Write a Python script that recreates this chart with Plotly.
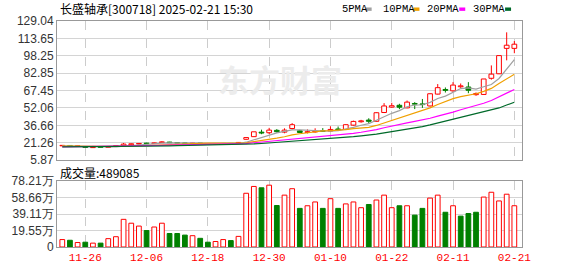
import plotly.graph_objects as go

# ---------------- data ----------------
dates = ["11-21", "11-22", "11-25", "11-26", "11-27", "11-28", "11-29", "12-02", "12-03", "12-04",
         "12-05", "12-06", "12-09", "12-10", "12-11", "12-12", "12-13", "12-16", "12-17", "12-18",
         "12-19", "12-20", "12-23", "12-24", "12-25", "12-26", "12-27", "12-30", "12-31", "01-02",
         "01-03", "01-06", "01-07", "01-08", "01-09", "01-10", "01-13", "01-14", "01-15", "01-16",
         "01-17", "01-20", "01-21", "01-22", "01-23", "01-24", "01-27", "02-05", "02-06", "02-07",
         "02-10", "02-11", "02-12", "02-13", "02-14", "02-17", "02-18", "02-19", "02-20", "02-21"]

open_ = [18.5, 18.8, 18.3, 17.6, 16.9, 17.3, 17.1, 17.9, 18.8, 19.4,
         20.1, 20.9, 20.5, 21.3, 21.8, 21.3, 21.0, 20.6, 20.9, 20.4,
         20.1, 20.3, 20.6, 20.9, 24.3, 26.6, 30.6, 30.1, 32.2, 30.6,
         33.8, 31.8, 30.3, 30.8, 31.9, 31.6, 33.4, 33.0, 36.8, 39.8,
         41.3, 40.2, 48.0, 52.8, 54.4, 52.1, 56.0, 55.6, 53.8, 64.3,
         68.4, 67.2, 70.8, 70.6, 63.8, 64.0, 78.3, 82.3, 104.8, 104.8]
high = [19.2, 19.0, 18.8, 17.8, 17.5, 17.5, 17.6, 18.9, 21.0, 20.6,
        21.0, 21.2, 21.4, 22.6, 22.0, 21.5, 21.3, 21.1, 21.0, 20.6,
        20.5, 20.8, 20.7, 21.8, 25.8, 30.9, 32.8, 34.4, 33.3, 34.0,
        38.6, 32.6, 33.0, 34.0, 34.2, 35.8, 35.6, 37.6, 40.8, 41.5,
        42.9, 48.2, 56.3, 56.6, 55.7, 58.6, 57.2, 60.0, 65.0, 73.2,
        70.2, 74.9, 73.7, 74.9, 65.8, 77.7, 89.7, 98.4, 119.0, 111.3]
low = [18.3, 18.2, 18.1, 17.0, 16.8, 16.9, 17.0, 17.8, 18.6, 19.2,
       19.8, 20.1, 20.3, 21.0, 20.9, 20.7, 20.5, 20.4, 20.2, 20.0,
       20.0, 20.2, 20.1, 20.7, 23.9, 26.4, 28.8, 29.0, 30.2, 29.6,
       33.0, 29.8, 29.5, 30.2, 30.8, 31.2, 31.8, 32.6, 36.4, 39.0,
       38.4, 40.0, 47.5, 52.2, 51.0, 51.8, 51.0, 52.1, 53.4, 64.0,
       65.7, 66.3, 69.8, 65.1, 62.8, 63.6, 77.1, 82.0, 94.2, 100.5]
close = [18.9, 18.4, 18.6, 17.1, 17.3, 17.0, 17.5, 18.7, 20.0, 20.3,
         20.6, 20.4, 21.1, 22.0, 21.2, 20.9, 20.7, 20.9, 20.4, 20.2,
         20.3, 20.6, 20.3, 21.5, 25.8, 30.9, 29.8, 32.4, 31.0, 32.4,
         37.2, 30.3, 31.0, 31.4, 31.3, 33.0, 32.8, 37.2, 40.1, 40.6,
         40.2, 47.8, 53.8, 54.0, 52.7, 57.2, 55.4, 55.0, 64.6, 70.0,
         67.6, 72.3, 71.6, 67.7, 64.8, 77.7, 82.0, 98.4, 107.6, 108.5]
# closes before the visible window (needed for the moving averages)
prior_close = [17.8, 17.6, 17.9, 18.2, 17.7, 17.4, 17.6, 17.9, 18.1, 17.8,
               17.2, 16.9, 16.6, 16.4, 16.8, 17.0, 16.7, 16.5, 16.9, 17.1,
               17.6, 18.0, 18.4, 18.2, 18.6, 18.3, 18.5, 18.2, 18.4]
# volume in 万 (10,000 shares)
volume_wan = [8.8, 8.0, 5.3, 5.7, 4.6, 4.6, 9.9, 12.2, 32.8, 28.2,
              24.8, 19.5, 23.7, 28.2, 16.0, 16.0, 14.1, 13.4, 10.3, 5.7,
              6.5, 8.8, 7.6, 12.6, 63.7, 71.8, 70.2, 73.3, 49.2, 61.5,
              69.1, 45.8, 48.9, 53.4, 45.8, 57.3, 45.8, 51.1, 53.4, 46.6,
              50.4, 55.7, 61.5, 46.6, 48.9, 48.9, 37.8, 45.8, 58.0, 61.5,
              41.2, 48.9, 36.6, 39.7, 41.2, 59.2, 64.9, 54.6, 62.6, 48.9085]

price_ticks = [5.87, 21.26, 36.66, 52.06, 67.45, 82.85, 98.25, 113.65, 129.04]
vol_ticks = [0, 19.55, 39.11, 58.66, 78.21]
x_tick_labels = ["11-26", "12-06", "12-18", "12-30", "01-10", "01-22", "02-11", "02-21"]
ma_periods = [5, 10, 20, 30]
ma_names = ["5PMA", "10PMA", "20PMA", "30PMA"]
title_text = "长盛轴承[300718] 2025-02-21 15:30"

# ---------------- styles ----------------
RED = "#ff0000"
GREEN = "#008000"
MA_COLORS = ["#a0a0a0", "#f0a000", "#ff00ff", "#006a2a"]
GRID = "#d4d4d4"
BORDER = "#999999"
CJK = "Noto Sans CJK SC"

n = len(close)
xs = list(range(n))
full = prior_close + close

def ma(period):
    out = []
    off = len(prior_close)
    for i in range(n):
        w = full[off + i - period + 1: off + i + 1]
        out.append(sum(w) / period)
    return out

up = [c >= o for o, c in zip(open_, close)]
prev = [prior_close[-1]] + close[:-1]
vol_up = [c >= p for c, p in zip(close, prev)]

fig = go.Figure()

# wicks (split so they do not cross the hollow bodies)
for flag, col in [(True, RED), (False, GREEN)]:
    wx, wy = [], []
    for i in xs:
        if up[i] != flag:
            continue
        bot = min(open_[i], close[i]); top = max(open_[i], close[i])
        wx += [i, i, None, i, i, None]
        wy += [low[i], bot, None, top, high[i], None]
    fig.add_trace(go.Scatter(x=wx, y=wy, mode="lines", line=dict(color=col, width=1),
                             hoverinfo="skip", showlegend=False, xaxis="x", yaxis="y"))

# bodies
for flag, fill, col in [(True, "white", RED), (False, GREEN, GREEN)]:
    bx = [i for i in xs if up[i] == flag]
    base = [min(open_[i], close[i]) for i in bx]
    h = [max(abs(close[i] - open_[i]), 0.12) for i in bx]
    fig.add_trace(go.Bar(x=bx, y=h, base=base, width=0.62,
                         marker=dict(color=fill, line=dict(color=col, width=1)),
                         showlegend=False, xaxis="x", yaxis="y"))

# moving averages
for p, col in zip(ma_periods, MA_COLORS):
    fig.add_trace(go.Scatter(x=xs, y=ma(p), mode="lines", line=dict(color=col, width=1.2),
                             showlegend=False, xaxis="x", yaxis="y"))

# volume
for flag, fill, col in [(True, "white", RED), (False, GREEN, GREEN)]:
    vx = [i for i in xs if vol_up[i] == flag]
    vy = [volume_wan[i] for i in vx]
    fig.add_trace(go.Bar(x=vx, y=vy, width=0.62,
                         marker=dict(color=fill, line=dict(color=col, width=1)),
                         showlegend=False, xaxis="x2", yaxis="y2"))

# ---------------- layout ----------------
W, H = 578, 276
PL, PR, PT, PB = 55, 522, 21, 255
PW, PH = PR - PL, PB - PT

def px(x):
    return (x - PL) / PW

def py(y):
    return (PB - y) / PH

tickvals = [dates.index(t) for t in x_tick_labels]
x_range = [-0.69, n - 1 + 1.0]

xcommon = dict(range=x_range, tickvals=tickvals, ticktext=x_tick_labels, showgrid=True,
               gridcolor="#cccccc", griddash="dash", gridwidth=1, zeroline=False, showline=True,
               linecolor=BORDER, linewidth=1, mirror=True, ticks="", fixedrange=True)

ycommon = dict(showgrid=True, gridcolor=GRID, gridwidth=1, zeroline=False, showline=True,
               linecolor=BORDER, linewidth=1, mirror=True, ticks="",
               tickfont=dict(family="Liberation Sans, Arial", size=12, color="#333333"))

annotations = [
    dict(text=title_text, x=px(56), y=py(8.5), xref="paper", yref="paper",
         xanchor="left", yanchor="middle", showarrow=False,
         font=dict(family=CJK, size=12, color="#000000")),
    dict(text="成交量:" + str(int(round(volume_wan[-1] * 10000))), x=px(56), y=py(177.5),
         xref="paper", yref="paper", xanchor="left", yanchor="middle", showarrow=False,
         font=dict(family=CJK, size=12, color="#000000")),
    dict(text="东方财富", x=px(279), y=py(81), xref="paper", yref="paper",
         xanchor="center", yanchor="middle", showarrow=False,
         font=dict(family=CJK, size=31, color="#ececec", weight="bold")),
]
shapes = []
leg_text_x = [339, 380, 425, 471]
leg_sq_x = [365, 413, 459, 505]
for name, col, tx, sx in zip(ma_names, MA_COLORS, leg_text_x, leg_sq_x):
    annotations.append(dict(text=name, x=px(tx), y=py(8.5), xref="paper", yref="paper",
                            xanchor="left", yanchor="middle", showarrow=False,
                            font=dict(family="Liberation Mono, monospace", size=10.5, color="#000000")))
    shapes.append(dict(type="rect", xref="paper", yref="paper", x0=px(sx), x1=px(sx + 6),
                       y0=py(10.5), y1=py(7), fillcolor=col, line=dict(width=0)))

fig.update_layout(
    width=W, height=H,
    margin=dict(l=PL, r=W - PR, t=PT, b=H - PB, pad=0),
    paper_bgcolor="white", plot_bgcolor="white",
    barmode="overlay", showlegend=False,
    xaxis=dict(**xcommon, anchor="y", domain=[0, 1], showticklabels=False),
    xaxis2=dict(**xcommon, anchor="y2", domain=[0, 1], matches="x", showticklabels=True,
                tickfont=dict(family="Liberation Mono, monospace", size=11, color=RED)),
    yaxis=dict(**ycommon, domain=[py(165), 1], range=[price_ticks[0], price_ticks[-1]],
               tickvals=price_ticks, ticktext=[f"{v:.2f}" for v in price_ticks]),
    yaxis2=dict(**ycommon, domain=[0, py(186.7)], range=[vol_ticks[0], vol_ticks[-1]],
                tickvals=vol_ticks, ticktext=["0"] + [f"{v:.2f}万" for v in vol_ticks[1:]]),
    annotations=annotations, shapes=shapes,
)

fig.write_html("out.html", include_plotlyjs=True, config={"displayModeBar": False})
